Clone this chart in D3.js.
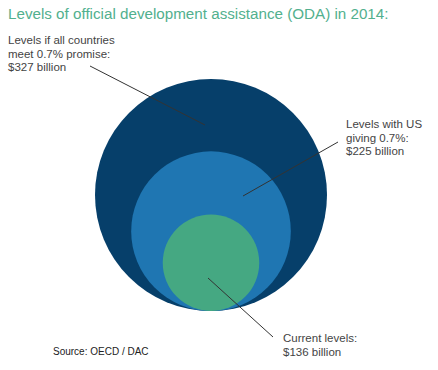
<!DOCTYPE html>
<html><head><meta charset="utf-8">
<script src="https://cdn.jsdelivr.net/npm/d3@7"></script>
<style>body{margin:0;background:#fff}svg{display:block}</style>
</head><body>
<script>
const categories = ["all", "us", "current"];
const values = [327, 225, 136];
const labels = [
  ["Levels if all countries", "meet 0.7% promise:", "$327 billion"],
  ["Levels with US", "giving 0.7%:", "$225 billion"],
  ["Current levels:", "$136 billion"]
];
const colors = ["#063f6a", "#1f76b2", "#45a882"];

const W = 438, H = 370;
const svg = d3.select("body").append("svg").attr("width", W).attr("height", H);
const r = d3.scaleLinear().domain([0, 327]).range([0, 116]);
const cx = 211, bottom = 311;

svg.append("text").attr("x", 8).attr("y", 19)
  .attr("font-family", "Liberation Sans, Arial, sans-serif").attr("font-size", 15.2)
  .attr("fill", "#52b08e").text("Levels of official development assistance (ODA) in 2014:");

svg.selectAll("circle").data(values).join("circle")
  .attr("cx", cx).attr("cy", d => bottom - r(d)).attr("r", d => r(d))
  .attr("fill", (d, i) => colors[i]);

const lines = [
  {x1: 90, y1: 66, x2: 205, y2: 125},
  {x1: 338, y1: 142, x2: 243, y2: 196},
  {x1: 208, y1: 278, x2: 273, y2: 337}
];
svg.selectAll("line").data(lines).join("line")
  .attr("x1", d => d.x1).attr("y1", d => d.y1).attr("x2", d => d.x2).attr("y2", d => d.y2)
  .attr("stroke", "#333").attr("stroke-width", 1);

const labelPos = [{x: 8, y: 44}, {x: 346, y: 128}, {x: 283, y: 342}];
labels.forEach((ls, i) => {
  const t = svg.append("text").attr("x", labelPos[i].x).attr("y", labelPos[i].y)
    .attr("font-family", "Liberation Sans, Arial, sans-serif").attr("font-size", 11.5)
    .attr("fill", "#444");
  ls.forEach((l, j) => t.append("tspan").attr("x", labelPos[i].x).attr("dy", j ? 13.5 : 0).text(l));
});

svg.append("text").attr("x", 53).attr("y", 355)
  .attr("font-family", "Liberation Sans, Arial, sans-serif").attr("font-size", 10)
  .attr("fill", "#222").text("Source: OECD / DAC");
</script>
</body></html>
